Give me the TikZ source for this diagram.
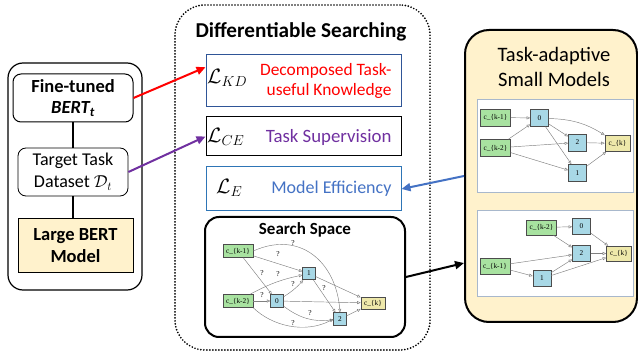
\documentclass[tikz,border=0pt]{standalone}
\usepackage{fontspec}
\setmainfont{Carlito}
\newfontfamily\gfont{Liberation Serif}
\usetikzlibrary{arrows.meta}
\definecolor{cream}{HTML}{FFF2CC}
\definecolor{kdred}{HTML}{FF0000}
\definecolor{cepurp}{HTML}{7030A0}
\definecolor{eblue}{HTML}{4472C4}
\definecolor{kdborder}{HTML}{2F5597}
\definecolor{eborder}{HTML}{2E75B6}
\definecolor{ggreen}{HTML}{A8E2A0}
\definecolor{gblue}{HTML}{A8D8E6}
\definecolor{gyel}{HTML}{EEE8AA}
\definecolor{frameblue}{HTML}{A8B8CC}
\begin{document}
\begin{tikzpicture}[x=1pt,y=-1pt,
  gbox/.style={draw=black!70, line width=0.6pt, inner sep=0.5pt, font=\gfont\fontsize{7.3}{8}\selectfont},
  sin/.style={gbox, fill=ggreen, minimum width=30pt, minimum height=13pt},
  smid/.style={gbox, fill=gblue, minimum width=12.5pt, minimum height=12.5pt},
  sout/.style={gbox, fill=gyel, minimum width=24pt, minimum height=12pt},
  rin/.style={gbox, fill=ggreen, minimum width=30pt, minimum height=17pt},
  rmid/.style={gbox, fill=gblue, minimum width=18pt, minimum height=17pt},
  rout/.style={gbox, fill=gyel, minimum width=25pt, minimum height=16pt},
  gedge/.style={draw=black!50, line width=0.45pt, -{Triangle[open,length=3.5pt,width=3pt]}},
  qlab/.style={font=\gfont\fontsize{7.5}{8}\selectfont, inner sep=0pt},
  bigarrow/.style={line width=2pt, -{Triangle[length=9pt,width=8pt]}},
  labtext/.style={anchor=east, align=right, font=\fontsize{18}{20}\selectfont},
  mathlab/.style={anchor=west, font=\fontsize{22.5}{26}\selectfont, inner sep=0pt}
]
\useasboundingbox (0,0) rectangle (638,358);

% ---------- left panel ----------
\node[draw, line width=1.2pt, rounded corners=15pt, minimum width=134pt, minimum height=227pt] (leftbox) at (75,176.5) {};
\node[draw, line width=1pt, rounded corners=8pt, minimum width=120pt, minimum height=48pt, align=center,
      font=\bfseries\fontsize{18.5}{21}\selectfont] (ft) at (73,98) {Fine-tuned\\\textit{BERT\textsubscript{t}}};
\node[draw, line width=0.8pt, rounded corners=8pt, minimum width=110pt, minimum height=48pt, align=center,
      font=\fontsize{18}{22}\selectfont] (tt) at (73,172) {Target Task\\Dataset $\mathcal{D}_t$};
\node[draw, line width=1pt, fill=cream, minimum width=115pt, minimum height=54pt, align=center,
      font=\bfseries\fontsize{18.5}{22}\selectfont] (lb) at (75.5,246) {Large BERT\\Model};
\draw[line width=2pt] (ft) -- (tt);
\draw[line width=2pt] (tt) -- (tt |- lb.north);

% ---------- middle panel ----------
\node[draw, line width=1.9pt, line cap=round, dash pattern=on 0pt off 3pt, rounded corners=30pt, minimum width=255pt, minimum height=345pt] (ds) at (302.5,177.5) {};
\node[font=\bfseries\fontsize{21.2}{24}\selectfont] (dst) at (301,32) {Differentiable Searching};

\node[draw=kdborder, line width=1pt, minimum width=195pt, minimum height=52pt] (kd) at (303.5,81) {};
\node[draw, line width=1pt, minimum width=195pt, minimum height=39pt] (ce) at (303.5,136.5) {};
\node[draw=eborder, line width=1pt, minimum width=195pt, minimum height=44pt] (le) at (303.5,189) {};

\node[mathlab] (kdm) at (207,78) {$\mathcal{L}_{KD}$};
\node[mathlab] (cem) at (207,137) {$\mathcal{L}_{CE}$};
\node[mathlab] (lem) at (216,188) {$\mathcal{L}_{E}$};
\node[labtext, text=kdred, font=\fontsize{17.4}{19.5}\selectfont] (kdt) at (395,81) {Decomposed Task-\\useful Knowledge};
\node[labtext, text=cepurp, font=\fontsize{18.8}{20}\selectfont] (cet) at (395,137) {Task Supervision};
\node[labtext, text=eblue] (let) at (395,189) {Model Efficiency};

% search space
\node[draw, line width=2pt, rounded corners=14pt, minimum width=200pt, minimum height=120pt] (ss) at (305,277) {};
\node[font=\bfseries\fontsize{17}{20}\selectfont] (sst) at (305,230) {Search Space};

\node[sin] (a1) at (238,251) {c\_\{k-1\}};
\node[sin] (a2) at (238,301) {c\_\{k-2\}};
\node[smid] (a0n) at (277,301) {0};
\node[smid] (a1n) at (309,273.5) {1};
\node[smid] (a2n) at (340,319) {2};
\node[sout] (ak) at (373,303) {c\_\{k\}};

\draw[gedge] (a1.east) .. controls (300,230) and (336,262) .. (a2n.north);
\draw[gedge] (a1) -- (a1n);
\draw[gedge] (a1) -- (a0n);
\draw[gedge] (a2) to[bend left=8] (a1n);
\draw[gedge] (a2) -- (a0n);
\draw[gedge] (a0n) to[bend right=8] (a1n);
\draw[gedge] (a0n) to[bend right=22] (a2n);
\draw[gedge] (a0n) -- (ak);
\draw[gedge] (a1n) -- (a2n);
\draw[gedge] (a1n) -- (ak);
\draw[gedge] (a2n) -- (ak);
\draw[gedge] (a2.south east) .. controls (272,326) and (305,334) .. (a2n.west);

\node[qlab] (q1) at (293,243) {?};
\node[qlab] (q2) at (278,254) {?};
\node[qlab] (q3) at (262,273) {?};
\node[qlab] (q4) at (278,274) {?};
\node[qlab] (q5) at (262,295) {?};
\node[qlab] (q6) at (293,284) {?};
\node[qlab] (q7) at (324,288) {?};
\node[qlab] (q8) at (310,313) {?};
\node[qlab] (q9) at (293,323) {?};

% ---------- right panel ----------
\node[draw, fill=cream, line width=2pt, rounded corners=24pt, minimum width=172pt, minimum height=292pt] (rp) at (551,176) {};
\node[align=center, font=\fontsize{20.5}{25}\selectfont] (rpt) at (554,67) {Task-adaptive\\Small Models};

\node[draw=frameblue, fill=white, line width=0.8pt, minimum width=156pt, minimum height=93pt] (g1) at (555,145.5) {};
\node[draw=frameblue, fill=white, line width=0.8pt, minimum width=156pt, minimum height=86pt] (g2) at (555,253) {};

% top small model
\node[rin] (b1) at (495.5,117.5) {c\_\{k-1\}};
\node[rin] (b2) at (495.5,148) {c\_\{k-2\}};
\node[rmid] (b0) at (539.5,118) {0};
\node[rmid] (b2n) at (577.5,142.5) {2};
\node[rout] (bk) at (617.5,143.5) {c\_\{k\}};
\node[rmid] (b1n) at (577.5,173) {1};
\draw[gedge] (b1) -- (b0);
\draw[gedge] (b2) -- (b0);
\draw[gedge] (b2) -- (b2n);
\draw[gedge] (b2) -- (b1n);
\draw[gedge] (b0) -- (b2n);
\draw[gedge] (b0) -- (b1n);
\draw[gedge] (b0) to[bend left=15] (bk);
\draw[gedge] (b2n) -- (bk);
\draw[gedge] (b1n) -- (bk);

% bottom small model
\node[rin, minimum height=15pt] (c2) at (541.5,227.5) {c\_\{k-2\}};
\node[rmid, minimum height=16pt] (c0) at (581.5,226.5) {0};
\node[rmid, minimum height=16pt] (c2n) at (581.5,253.5) {2};
\node[rout, minimum height=15pt] (ck) at (619,253.5) {c\_\{k\}};
\node[rin, minimum height=16pt] (c1) at (495,266) {c\_\{k-1\}};
\node[rmid, minimum height=16pt] (c1n) at (542,278.5) {1};
\draw[gedge] (c2) -- (c0);
\draw[gedge] (c2) -- (c2n);
\draw[gedge] (c0) -- (ck);
\draw[gedge] (c1) -- (c2n);
\draw[gedge] (c1) -- (c1n);
\draw[gedge] (c1n) -- (c2n);
\draw[gedge] (c1n) -- (ck);
\draw[gedge] (c2n) -- (ck);

% ---------- connectors ----------
\draw[bigarrow, draw=kdred, fill=kdred] (ft.east) -- (kd.172);
\draw[bigarrow, draw=cepurp, fill=cepurp] (tt.east) -- (ce.west);
\draw[bigarrow, draw=eblue, fill=eblue] (rp.west) -- (le.east);
\draw[bigarrow] (ss.east) -- (rp.225);
\end{tikzpicture}
\end{document}
